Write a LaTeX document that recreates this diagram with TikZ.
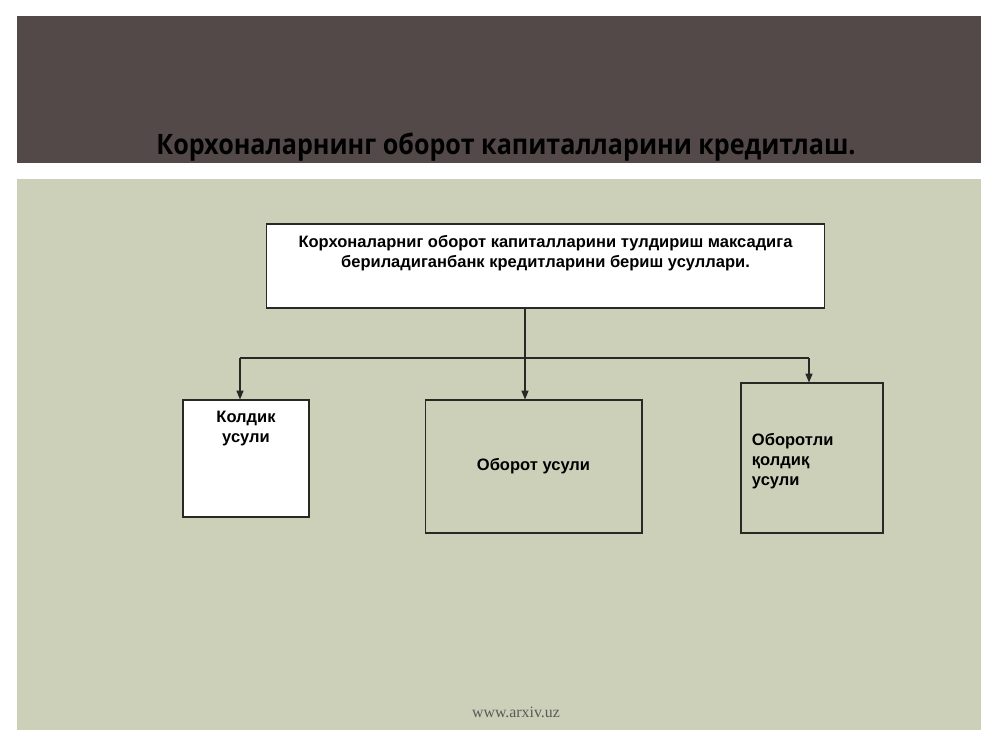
\documentclass[tikz,border=0pt]{standalone}
\usepackage{fontspec}
\setmainfont{Liberation Sans}
\newfontfamily\titlefont[FakeStretch=0.894]{Open Sans}
\newfontfamily\footfont{Liberation Serif}
\usepackage{tikz}
\usetikzlibrary{arrows.meta,positioning}

\definecolor{bandgray}{RGB}{82,73,72}
\definecolor{olive}{RGB}{205,208,184}
\definecolor{linegray}{RGB}{40,40,36}

\tikzset{
  box/.style={draw=linegray, line width=0.6pt, rectangle, inner sep=0pt},
  boxtext/.style={font=\bfseries\fontsize{9.4}{11.4}\selectfont, align=center},
  link/.style={draw=linegray, line width=0.6pt},
  arr/.style={link, -{Triangle[length=5pt,width=4pt]}}
}

\begin{document}
\begin{tikzpicture}[x=0.02cm, y=-0.02cm]
\useasboundingbox (0,0) rectangle (1000,750);
\fill[bandgray] (17,16) rectangle (981,163);
\fill[olive] (17,179) rectangle (981,730);
\node[font=\titlefont\bfseries\fontsize{16}{18}\selectfont, text=black] (title) at (506,147) {Корхоналарнинг оборот капиталларини кредитлаш.};

% boxes
\node[box, fill=white, minimum width=11.18cm, minimum height=1.68cm,
  label={[name=toptext, boxtext, anchor=north, yshift=-3pt]north:{Корхоналарниг оборот капиталларини тулдириш максадига\\бериладиганбанк кредитларини бериш усуллари.}}] (top) at (545.5,266) {};
\node[box, fill=white, minimum width=2.52cm, minimum height=2.34cm,
  label={[name=koltext, boxtext, anchor=north, yshift=-3pt]north:{Колдик\\усули}}] (kol) at (246,458.5) {};
\node[box, boxtext, minimum width=4.34cm, minimum height=2.66cm] (obr) at (533.5,466.5) {Оборот усули};
\node[box, minimum width=2.84cm, minimum height=3cm,
  label={[name=obktext, boxtext, align=left, anchor=west, xshift=3pt, yshift=-2pt]west:{Оборотли\\қолдиқ\\усули}}] (obk) at (812,458) {};

% connectors
\coordinate (split) at (525,358);
\coordinate (bl) at (240,358);
\coordinate (br) at (809,358);
\draw[link] (top.south -| split) -- (split);
\draw[arr] (split) -- (obr.north -| split);
\draw[link] (bl) -- (br);
\draw[arr] (bl) -- (kol.north -| bl);
\draw[arr] (br) -- (obk.north -| br);

\node[font=\footfont\fontsize{9}{11}\selectfont, text=black!65] (foot) at (516,712) {www.arxiv.uz};
\end{tikzpicture}
\end{document}
